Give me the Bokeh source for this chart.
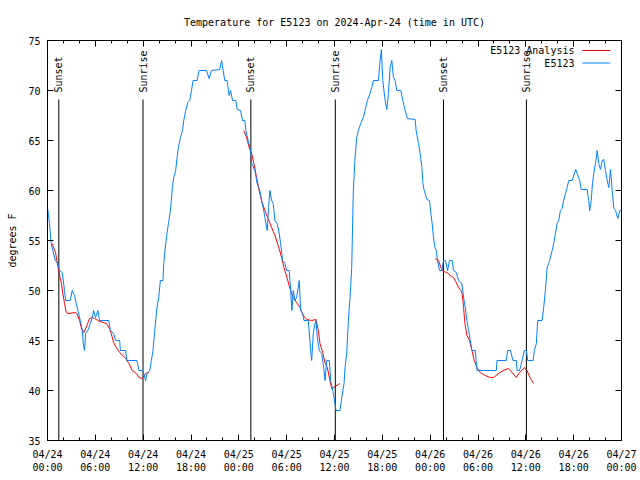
import math
from bokeh.plotting import figure
from bokeh.models import FixedTicker, LinearAxis, Range1d
from bokeh.core.properties import value
from bokeh.embed import file_html
from bokeh.resources import INLINE

FONT = "DejaVu Sans Mono"
TITLE = "Temperature for E5123 on 2024-Apr-24 (time in UTC)"
Y_LABEL = "degrees F"

# x axis: hours since 2024-04-24 00:00 UTC
TICK_HOURS = [0, 6, 12, 18, 24, 30, 36, 42, 48, 54, 60, 66, 72]
TICK_LABELS = ["04/24\n00:00", "04/24\n06:00", "04/24\n12:00", "04/24\n18:00",
               "04/25\n00:00", "04/25\n06:00", "04/25\n12:00", "04/25\n18:00",
               "04/26\n00:00", "04/26\n06:00", "04/26\n12:00", "04/26\n18:00",
               "04/27\n00:00"]
MINOR_HOURS = [2, 4, 8, 10, 14, 16, 20, 22, 26, 28, 32, 34, 38, 40, 44, 46,
               50, 52, 56, 58, 62, 64, 68, 70]
Y_TICKS = [35, 40, 45, 50, 55, 60, 65, 70, 75]

EVENT_HOURS = [1.42, 11.98, 25.51, 36.10, 49.67, 60.07]
EVENT_NAMES = ["Sunset", "Sunrise", "Sunset", "Sunrise", "Sunset", "Sunrise"]

SERIES_NAMES = ["E5123 Analysis", "E5123"]
SERIES_COLORS = ["#ff0000", "#0080ff"]

# E5123 observations
BLUE_H = [0.04, 0.25, 0.46, 0.67, 0.97, 1.29, 1.51, 1.85, 2.14, 2.26,
          2.85, 3.10, 3.39, 3.61, 3.81, 4.11, 4.36, 4.52, 4.65, 4.78,
          5.06, 5.37, 5.62, 5.78, 6.03, 6.32, 6.53, 7.70, 7.88, 8.29,
          8.54, 9.05, 9.14, 9.80, 9.96, 11.22, 11.47, 11.98, 12.06, 12.31,
          12.48, 12.82, 13.03, 13.23, 13.45, 13.73, 13.95, 14.16, 14.49, 14.58,
          14.83, 14.99, 15.17, 15.42, 15.67, 15.83, 16.08, 16.25, 16.42, 16.68,
          16.93, 17.09, 17.34, 17.59, 17.84, 18.06, 18.26, 18.76, 19.01, 19.94,
          20.27, 20.57, 21.61, 21.83, 22.03, 22.24, 22.53, 22.78, 22.96, 23.21,
          23.62, 23.79, 24.21, 24.47, 24.76, 24.88, 25.17, 25.47, 25.63, 26.01,
          26.30, 26.64, 26.85, 27.05, 27.27, 27.56, 27.73, 27.90, 28.11, 28.31,
          28.53, 28.81, 29.07, 29.24, 29.49, 29.78, 29.99, 30.32, 30.50, 30.66,
          30.82, 31.04, 31.25, 31.58, 31.75, 32.01, 32.17, 32.71, 32.84, 33.01,
          33.14, 33.34, 33.55, 33.68, 33.84, 34.09, 34.39, 34.59, 34.81, 35.02,
          35.35, 35.52, 35.78, 35.94, 36.19, 36.69, 36.91, 37.20, 37.32, 37.53,
          37.74, 37.95, 38.16, 38.36, 38.58, 38.79, 38.99, 39.29, 39.62, 39.83,
          40.12, 40.46, 40.68, 40.88, 41.51, 41.72, 41.88, 42.06, 42.35, 42.56,
          42.76, 42.98, 43.19, 43.39, 43.60, 43.82, 44.32, 44.57, 44.86, 45.15,
          46.12, 46.24, 46.53, 46.75, 46.96, 47.09, 47.25, 47.59, 47.92, 48.09,
          48.25, 48.42, 48.59, 48.76, 48.92, 49.17, 49.47, 49.67, 49.92, 50.18,
          50.43, 50.77, 50.93, 51.27, 51.56, 51.98, 52.19, 52.40, 52.61, 52.82,
          53.03, 53.24, 53.66, 53.87, 56.30, 56.38, 57.55, 57.72, 58.06, 58.39,
          58.81, 58.90, 59.22, 59.53, 59.81, 60.07, 60.23, 60.91, 61.07, 61.32,
          61.49, 62.04, 62.24, 62.45, 62.67, 62.87, 62.99, 63.30, 63.50, 63.71,
          63.93, 64.13, 64.34, 64.55, 64.75, 64.97, 65.18, 65.38, 65.81, 66.10,
          66.26, 66.44, 66.76, 66.94, 67.69, 67.89, 68.02, 68.20, 68.36, 68.52,
          68.74, 68.95, 69.15, 69.36, 69.58, 69.78, 69.99, 70.21, 70.41, 70.62,
          70.83, 71.04, 71.25, 71.54, 71.79, 72.0]
BLUE_T = [58.1, 56.7, 54.7, 54.0, 53.0, 52.7, 52.0, 51.8, 50.0, 49.0,
          49.0, 50.0, 49.5, 48.7, 48.0, 47.0, 46.0, 44.5, 44.0, 45.7,
          46.0, 46.7, 47.3, 48.0, 47.3, 48.0, 47.0, 47.0, 46.0, 45.7,
          45.0, 45.0, 44.0, 44.0, 43.0, 43.0, 42.0, 42.0, 41.7, 41.0,
          41.7, 42.0, 43.0, 44.0, 46.0, 48.3, 49.3, 51.0, 51.0, 52.7,
          54.7, 55.7, 56.7, 58.0, 60.3, 61.3, 62.0, 63.3, 64.3, 65.3,
          66.0, 67.0, 68.0, 68.8, 69.0, 70.0, 71.0, 71.0, 72.0, 72.0,
          71.2, 72.0, 72.1, 73.0, 72.0, 71.0, 71.0, 69.5, 70.0, 69.0,
          69.0, 68.1, 68.0, 67.0, 67.0, 66.0, 65.0, 64.0, 62.7, 62.0,
          60.7, 60.0, 59.0, 58.3, 57.3, 56.0, 58.3, 60.0, 59.0, 58.7,
          57.0, 56.7, 55.7, 54.7, 53.0, 52.7, 52.0, 52.0, 50.0, 48.0,
          50.0, 49.0, 49.3, 51.0, 48.0, 47.7, 47.0, 47.0, 45.7, 44.0,
          43.0, 45.7, 46.7, 47.0, 45.3, 44.0, 43.7, 42.7, 41.0, 43.0,
          43.0, 41.0, 40.0, 39.3, 38.0, 38.0, 39.3, 40.7, 42.3, 43.7,
          47.0, 49.3, 52.3, 60.0, 63.3, 65.3, 66.0, 66.7, 67.3, 68.0,
          69.0, 69.7, 70.3, 71.0, 71.0, 73.0, 74.1, 71.0, 69.0, 68.1,
          69.7, 72.3, 73.0, 71.3, 71.0, 70.0, 70.0, 69.0, 68.0, 67.2,
          67.1, 66.0, 64.7, 63.7, 62.3, 60.7, 60.0, 59.1, 59.0, 57.7,
          56.7, 55.3, 54.3, 54.0, 53.0, 52.0, 52.0, 53.0, 53.0, 52.0,
          53.0, 53.0, 52.0, 51.8, 51.0, 50.7, 49.3, 48.3, 47.0, 46.0,
          45.0, 44.0, 44.0, 42.0, 42.0, 43.0, 43.0, 44.0, 44.0, 43.0,
          43.0, 42.0, 42.0, 43.0, 44.0, 44.0, 43.0, 43.0, 44.0, 44.7,
          47.0, 47.0, 48.3, 50.0, 52.3, 52.7, 53.0, 54.0, 54.7, 55.7,
          56.7, 57.0, 58.0, 58.2, 59.0, 59.7, 60.3, 61.0, 61.0, 61.7,
          62.1, 61.7, 61.0, 60.1, 60.1, 59.0, 58.0, 59.0, 60.7, 61.7,
          62.7, 64.0, 62.7, 62.1, 63.0, 63.1, 62.0, 61.0, 60.3, 62.1,
          60.0, 58.2, 58.0, 57.2, 58.0, 58.0]

# E5123 Analysis (three night-time pieces)
RED1_H = [0.59, 0.75, 1.01, 1.17, 1.42, 1.60, 1.76, 1.92, 2.14, 2.35,
          2.55, 3.52, 3.68, 4.02, 4.23, 4.56, 4.94, 5.28, 5.62, 5.91,
          6.32, 6.95, 7.38, 7.79, 8.00, 8.29, 8.63, 9.05, 9.46, 9.80,
          10.22, 10.64, 11.15, 11.47, 11.77, 11.98, 12.31, 12.73]
RED1_T = [54.7, 54.3, 53.8, 53.0, 52.0, 51.2, 50.7, 49.7, 48.7, 47.8,
          47.7, 47.8, 47.7, 47.0, 46.3, 45.8, 46.5, 47.2, 47.3, 47.2,
          47.0, 46.8, 46.7, 46.2, 45.7, 44.8, 44.3, 43.8, 43.5, 43.2,
          42.7, 42.0, 41.7, 41.3, 41.2, 41.3, 41.7, 41.8]
RED2_H = [24.63, 24.97, 25.30, 25.60, 25.89, 26.23, 26.55, 26.85, 27.27, 27.68,
          28.11, 28.53, 28.94, 29.37, 29.66, 30.07, 30.41, 30.82, 31.25, 31.67,
          32.08, 32.51, 33.14, 33.68, 33.97, 34.18, 34.52, 34.81, 35.10, 35.35,
          35.65, 36.06, 36.48, 36.69]
RED2_T = [66.0, 65.3, 64.3, 63.7, 62.7, 61.3, 60.0, 59.0, 58.0, 57.2,
          56.3, 55.5, 54.5, 53.3, 52.3, 51.2, 50.2, 49.3, 48.8, 48.3,
          47.5, 47.1, 47.0, 47.1, 46.0, 44.7, 43.8, 42.8, 42.3, 41.3,
          40.2, 40.4, 40.6, 40.7]
RED3_H = [48.63, 49.05, 49.35, 49.67, 50.10, 50.52, 50.93, 51.27, 51.56, 51.86,
          52.02, 52.19, 52.36, 52.61, 52.94, 53.24, 53.53, 53.87, 54.28, 54.91,
          55.54, 55.96, 56.58, 57.14, 57.84, 58.26, 58.81, 59.22, 59.81, 60.15,
          60.57, 60.98]
RED3_T = [53.2, 53.0, 52.3, 51.9, 51.8, 51.5, 51.3, 50.8, 50.3, 50.0,
          49.7, 48.3, 46.7, 45.5, 45.0, 44.0, 43.0, 42.3, 41.8, 41.5,
          41.3, 41.3, 41.7, 42.0, 42.2, 41.8, 41.3, 41.8, 42.3, 42.0,
          41.2, 40.7]

p = figure(width=640, height=480, x_range=Range1d(0, 72), y_range=Range1d(35, 75),
           output_backend="svg", toolbar_location=None,
           min_border_left=47, min_border_right=19, min_border_top=40, min_border_bottom=40)
p.background_fill_color = "white"
p.border_fill_color = "white"
p.outline_line_color = "black"
p.outline_line_width = 1
p.outline_line_alpha = 1
p.xgrid.visible = False
p.ygrid.visible = False

p.title.text = TITLE
p.title.align = "center"
p.title.text_font = FONT
p.title.text_font_size = "10px"
p.title.text_font_style = "normal"
p.title.text_color = "black"
p.title.standoff = 25

def style_common(ax):
    ax.major_tick_in = 6
    ax.major_tick_out = 0
    ax.axis_line_color = "black"
    ax.major_tick_line_color = "black"
    ax.major_label_text_font = FONT
    ax.major_label_text_font_size = "10px"
    ax.major_label_text_color = "black"

def style_x(ax, labels):
    style_common(ax)
    ax.ticker = FixedTicker(ticks=TICK_HOURS, minor_ticks=MINOR_HOURS)
    ax.minor_tick_in = 3
    ax.minor_tick_out = 0
    ax.minor_tick_line_color = "black"
    if labels:
        ax.major_label_overrides = {h: lab for h, lab in zip(TICK_HOURS, TICK_LABELS)}
        ax.major_label_standoff = 8
    else:
        ax.major_label_overrides = {h: "" for h in TICK_HOURS}
        ax.major_label_text_color = None
        ax.major_label_standoff = 0

def style_y(ax, labels):
    style_common(ax)
    ax.ticker = FixedTicker(ticks=Y_TICKS)
    ax.minor_tick_line_color = None
    if labels:
        ax.major_label_standoff = 7
        ax.axis_label = Y_LABEL
        ax.axis_label_text_font = FONT
        ax.axis_label_text_font_size = "10px"
        ax.axis_label_text_font_style = "normal"
        ax.axis_label_text_color = "black"
        ax.axis_label_standoff = 7
    else:
        ax.major_label_overrides = {t: "" for t in Y_TICKS}
        ax.major_label_text_color = None
        ax.major_label_standoff = 0

style_x(p.xaxis[0], True)
style_y(p.yaxis[0], True)
top_ax = LinearAxis()
style_x(top_ax, False)
p.add_layout(top_ax, "above")
right_ax = LinearAxis()
style_y(right_ax, False)
p.add_layout(right_ax, "right")

# sunrise / sunset markers
p.segment(x0=EVENT_HOURS, y0=35, x1=EVENT_HOURS, y1=69.1, line_color="black", line_width=1)
p.text(x=EVENT_HOURS, y=69.8, text=EVENT_NAMES, angle=math.pi / 2,
       text_align="left", text_baseline="middle", text_font=value(FONT),
       text_font_size="10px", text_color="black")

# series
p.multi_line(xs=[RED1_H, RED2_H, RED3_H], ys=[RED1_T, RED2_T, RED3_T],
             line_color=SERIES_COLORS[0], line_width=1)
p.line(BLUE_H, BLUE_T, line_color=SERIES_COLORS[1], line_width=1)

# legend (gnuplot style: text then sample line)
p.text(x=[66.1, 66.1], y=[74.0, 72.75], text=SERIES_NAMES, text_align="right",
       text_baseline="middle", text_font=value(FONT), text_font_size="10px",
       text_color="black")
p.segment(x0=[67.1, 67.1], y0=[74.0, 72.75], x1=[70.6, 70.6], y1=[74.0, 72.75],
          line_color=SERIES_COLORS, line_width=1)

open("out.html", "w").write(file_html(p, INLINE))
